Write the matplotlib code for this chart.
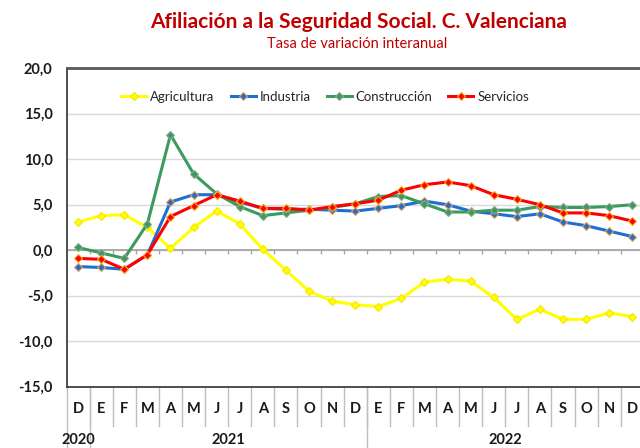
"""Afiliación a la Seguridad Social, C. Valenciana: tasa de variación interanual."""

import matplotlib
matplotlib.use("Agg")
import matplotlib.pyplot as plt
import matplotlib.transforms as mtransforms
from matplotlib.ticker import FuncFormatter
import numpy as np

plt.rcParams["font.family"] = ["Lato", "DejaVu Sans"]

# ── Data ────────────────────────────────────────────────────────────────
months = ["D", "E", "F", "M", "A", "M", "J", "J", "A", "S", "O", "N", "D",
          "E", "F", "M", "A", "M", "J", "J", "A", "S", "O", "N", "D"]
years = ["2020", "2021", "2022"]
year_centers = [0, 6.5, 18.5]
year_bounds = [-0.5, 0.5, 12.5, 24.5]

agricultura = [3.1, 3.8, 3.9, 2.5, 0.2, 2.5, 4.3, 2.9, 0.1, -2.2, -4.5, -5.6, -6.0,
               -6.2, -5.3, -3.5, -3.2, -3.4, -5.2, -7.6, -6.5, -7.6, -7.6, -6.9, -7.3]
industria = [-1.8, -1.9, -2.1, -0.5, 5.3, 6.1, 6.1, 5.3, 4.6, 4.5, 4.5, 4.4, 4.3,
             4.6, 4.9, 5.4, 5.0, 4.3, 4.0, 3.7, 4.0, 3.1, 2.7, 2.1, 1.5]
construccion = [0.3, -0.3, -0.9, 2.9, 12.7, 8.4, 6.2, 4.8, 3.8, 4.1, 4.4, 4.7, 5.1,
                5.9, 6.0, 5.1, 4.2, 4.2, 4.4, 4.4, 4.8, 4.7, 4.7, 4.8, 5.0]
servicios = [-0.9, -1.0, -2.1, -0.5, 3.7, 4.9, 6.1, 5.4, 4.6, 4.6, 4.4, 4.8, 5.1,
             5.5, 6.6, 7.2, 7.5, 7.1, 6.1, 5.6, 5.0, 4.1, 4.1, 3.8, 3.2]

series = [
    ("Agricultura", agricultura, "#FFFF00", "#F2E600"),
    ("Industria", industria, "#1F6FD0", "#E8A050"),
    ("Construcción", construccion, "#3C9A5F", "#8AA890"),
    ("Servicios", servicios, "#FF0000", "#F0B020"),
]

# ── Figure ──────────────────────────────────────────────────────────────
fig = plt.figure(figsize=(6.4, 4.48), dpi=100)
ax = fig.add_axes([0.104, 0.137, 0.902, 0.7105])

x = np.arange(len(months))
for name, vals, color, edge in series:
    ax.plot(x, vals, color=color, lw=2.2, marker="D", markersize=3.8,
            markerfacecolor=color, markeredgecolor=edge, markeredgewidth=0.8,
            label=name, zorder=3)

ax.set_xlim(-0.5, len(months) - 0.5)
ax.set_ylim(-15, 20)
ax.set_yticks(np.arange(-15, 21, 5))
ax.yaxis.set_major_formatter(FuncFormatter(lambda v, p: f"{v:.1f}".replace(".", ",")))
ax.tick_params(axis="y", length=0, pad=10, labelsize=10.5, labelcolor="#1A1A1A")
for lab in ax.get_yticklabels():
    lab.set_fontweight("bold")
ax.set_xticks([])

ax.grid(axis="y", color="#D9D9D9", lw=1.0)
ax.set_axisbelow(True)
ax.axhline(0, color="#A6A6A6", lw=1.3, zorder=1)
ax.vlines(np.arange(len(months) - 1) + 0.5, 0, -0.45, color="#A6A6A6", lw=1.0, zorder=1)

ax.spines["top"].set_color("#595959")
ax.spines["top"].set_linewidth(2.0)
ax.spines["left"].set_color("#404040")
ax.spines["left"].set_linewidth(1.3)
ax.spines["bottom"].set_color("#404040")
ax.spines["bottom"].set_linewidth(1.3)
ax.spines["right"].set_visible(False)

# Category axis (months + years)
trans = mtransforms.blended_transform_factory(ax.transData, ax.transAxes)
for i, m in enumerate(months):
    ax.text(i, -0.07, m, transform=trans, ha="center", va="center",
            fontsize=10.5, fontweight="bold", color="#1A1A1A")
for i in range(len(months) - 1):
    ax.plot([i + 0.5, i + 0.5], [0, -0.125], transform=trans, color="#BFBFBF",
            lw=1.0, clip_on=False)
for b in year_bounds:
    ax.plot([b, b], [0, -0.25], transform=trans, color="#BFBFBF", lw=1.0, clip_on=False)
for xc, yr in zip(year_centers, years):
    ax.text(xc, -0.167, yr, transform=trans, ha="center", va="center",
            fontsize=10.5, fontweight="bold", color="#1A1A1A")

ax.legend(loc="center", bbox_to_anchor=(0.448, 0.91), ncol=4, frameon=False,
          fontsize=9.5, handlelength=1.9, handletextpad=0.3, columnspacing=1.2,
          labelcolor="#262626")

fig.text(0.561, 0.951, "Afiliación a la Seguridad Social. C. Valenciana",
         ha="center", va="center", fontsize=15, fontweight="bold", color="#C00000")
fig.text(0.558, 0.902, "Tasa de variación interanual",
         ha="center", va="center", fontsize=10.5, color="#C00000")

fig.savefig("out.png", dpi=100)
